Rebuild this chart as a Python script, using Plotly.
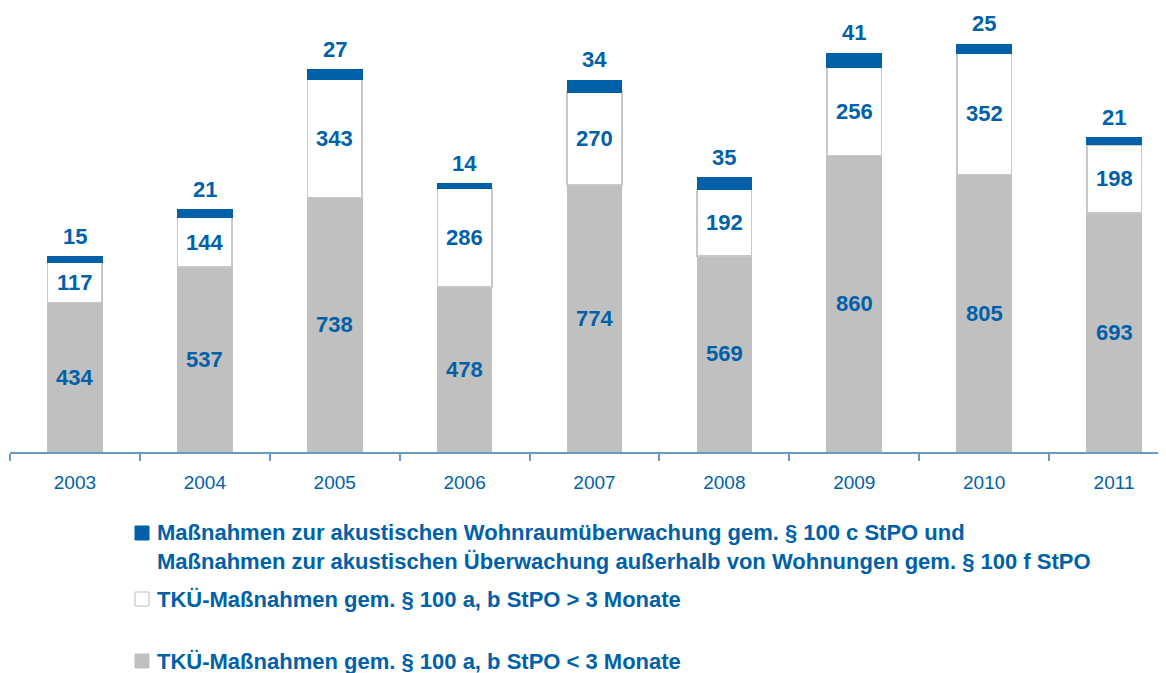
import plotly.graph_objects as go

years = ["2003", "2004", "2005", "2006", "2007", "2008", "2009", "2010", "2011"]
under3 = [434, 537, 738, 478, 774, 569, 860, 805, 693]
over3 = [117, 144, 343, 286, 270, 192, 256, 352, 198]
acoustic = [15, 21, 27, 14, 34, 35, 41, 25, 21]

legend_labels = [
    "Maßnahmen zur akustischen Wohnraumüberwachung gem. § 100 c StPO und<br>Maßnahmen zur akustischen Überwachung außerhalb von Wohnungen gem. § 100 f StPO",
    "TKÜ-Maßnahmen gem. § 100 a, b StPO > 3 Monate",
    "TKÜ-Maßnahmen gem. § 100 a, b StPO < 3 Monate",
]

BLUE = "#0061A8"
GRAY = "#C0C0C0"
FONT = "Liberation Sans, Arial, sans-serif"

OFF = 8  # page body margin
W, H = 1166 - OFF, 673 - OFF
ML, MR, MT, MB = 10 - OFF, 0, 21 - OFF, 673 - 452
PW, PH = W - ML - MR, H - MT - MB

def px(x):  # viewport px -> paper
    return (x - OFF - ML) / PW

def py(y):
    return (H - MB - (y - OFF)) / PH

fig = go.Figure()
fig.add_bar(x=years, y=under3, name=legend_labels[2], marker=dict(color=GRAY, line=dict(color=GRAY, width=1)), width=0.42)
fig.add_bar(x=years, y=over3, name=legend_labels[1], marker=dict(color="white", line=dict(color="#C8C8C8", width=1.5)), width=0.42)
fig.add_bar(x=years, y=acoustic, name=legend_labels[0], marker=dict(color=BLUE, line=dict(color=BLUE, width=1)), width=0.42)

ann = []
lab_font = dict(family=FONT, size=22, color=BLUE)
for i, yr in enumerate(years):
    a, b, c = under3[i], over3[i], acoustic[i]
    ann.append(dict(x=i, y=a / 2, text="<b>%d</b>" % a, showarrow=False, font=lab_font, xref="x", yref="y"))
    ann.append(dict(x=i, y=a + b / 2, text="<b>%d</b>" % b, showarrow=False, font=lab_font, xref="x", yref="y"))
    ann.append(dict(x=i, y=a + b + c, text="<b>%d</b>" % c, showarrow=False, font=lab_font, xref="x", yref="y",
                    yanchor="bottom", yshift=6))

# custom legend
leg_font = dict(family=FONT, size=22, color=BLUE)
legend_rows = [(547, legend_labels[0]), (599, legend_labels[1]), (661, legend_labels[2])]
shapes = []
for yc, txt in legend_rows:
    ann.append(dict(x=px(155), y=py(yc), xref="paper", yref="paper", xanchor="left", yanchor="middle",
                    text="<b>%s</b>" % txt, showarrow=False, font=leg_font, align="left"))
sq = [(533, BLUE, BLUE), (599, "white", "#BDBDBD"), (661, GRAY, GRAY)]
for yc, fill, line in sq:
    shapes.append(dict(type="rect", xref="paper", yref="paper", x0=px(135), x1=px(149), y0=py(yc - 7), y1=py(yc + 7),
                       fillcolor=fill, line=dict(color=line, width=1)))

fig.update_layout(
    width=W, height=H,
    margin=dict(l=ML, r=MR, t=MT, b=MB),
    barmode="stack",
    showlegend=False,
    plot_bgcolor="white", paper_bgcolor="white",
    annotations=ann, shapes=shapes,
    xaxis=dict(type="category", range=[-0.5, 8.4], showline=True, linecolor="#6A9AC8", linewidth=1.5,
               ticks="outside", tickson="boundaries", ticklen=7, tickcolor="#6A9AC8", tickwidth=1.5,
               tickfont=dict(family=FONT, size=19, color=BLUE), ticklabelstandoff=12, showgrid=False, zeroline=False),
    yaxis=dict(range=[0, 1250], visible=False, showgrid=False, zeroline=False),
)

fig.write_html("out.html")
